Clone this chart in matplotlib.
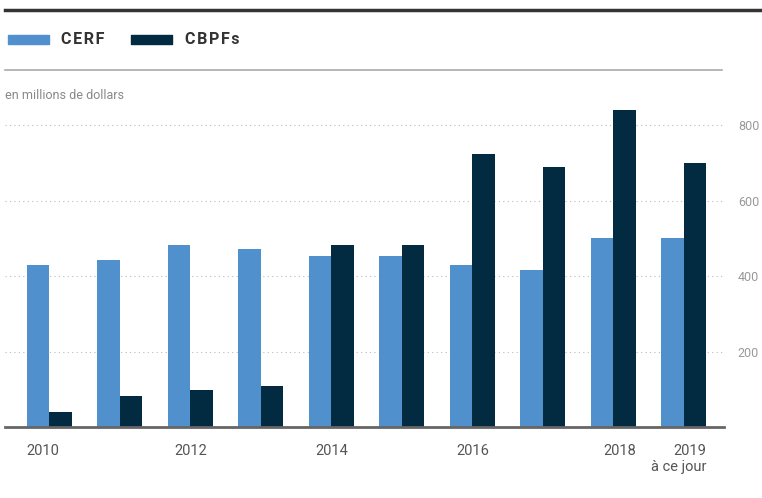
import numpy as np
import matplotlib.pyplot as plt
from matplotlib.lines import Line2D
from matplotlib.patches import Rectangle

plt.rcParams['font.family'] = ['Roboto', 'DejaVu Sans']

years = ['2010', '2011', '2012', '2013', '2014', '2015', '2016', '2017', '2018', '2019\nà ce jour']
cerf = [429, 442, 482, 471, 453, 453, 429, 416, 501, 501]
cbpf = [41, 84, 100, 108, 482, 482, 724, 689, 839, 700]
yticks = [200, 400, 600, 800]

CERF_COL = '#4f90cd'
CBPF_COL = '#022a41'

fig = plt.figure(figsize=(7.62, 4.98), dpi=100)
ax = fig.add_axes([5 / 762, 70.7 / 498, 719 / 762, 332.6 / 498])

x = np.arange(len(years))
w = 0.32
ax.bar(x - w / 2, cerf, width=w, color=CERF_COL, zorder=3)
ax.bar(x + w / 2, cbpf, width=w, color=CBPF_COL, zorder=3)

ax.set_xlim(-0.63, 9.57)
ax.set_ylim(0, 880)

# y axis on the right, dotted grid
ax.yaxis.tick_right()
ax.set_yticks(yticks)
ax.tick_params(axis='y', length=0, pad=10, labelsize=9, labelcolor='#999999')
ax.grid(axis='y', linestyle=(0, (1, 3)), color='#bbbbbb', linewidth=0.8, zorder=0)

# x labels: only every other year, ends aligned to bar edges
shown = [0, 2, 4, 6, 8, 9]
pos = []
for i in shown:
    if i == 0:
        pos.append(i - w)
    elif i >= 8:
        pos.append(i + w)
    else:
        pos.append(i)
ax.set_xticks(pos)
ax.set_xticklabels([years[i] for i in shown])
ax.tick_params(axis='x', length=0, pad=12, labelsize=10.5, labelcolor='#555555')
labels = ax.get_xticklabels()
labels[0].set_ha('left')
labels[-2].set_ha('right')
labels[-1].set_ha('right')
labels[-1].set_linespacing(1.15)

for s in ['top', 'right', 'left']:
    ax.spines[s].set_visible(False)
ax.spines['bottom'].set_color('#666666')
ax.spines['bottom'].set_linewidth(2)
ax.spines['bottom'].set_zorder(4)

# header: rules, legend, unit note
fig.add_artist(Line2D([5 / 762, 1], [1 - 10 / 498, 1 - 10 / 498], color='#333333', linewidth=2.5))
fig.add_artist(Line2D([5 / 762, 722 / 762], [1 - 70 / 498, 1 - 70 / 498], color='#aaaaaa', linewidth=1.2))

hs = '\u200a'
fig.add_artist(Rectangle((8 / 762, 1 - 44 / 498), 41 / 762, 9 / 498, color=CERF_COL, transform=fig.transFigure))
fig.text(61 / 762, 1 - 40 / 498, hs.join('CERF'), fontsize=11.5, fontweight='bold',
         color='#333333', va='center', family=['Roboto', 'DejaVu Sans'])
fig.add_artist(Rectangle((131 / 762, 1 - 44 / 498), 41 / 762, 9 / 498, color=CBPF_COL, transform=fig.transFigure))
fig.text(185 / 762, 1 - 40 / 498, hs.join('CBPFs'), fontsize=11.5, fontweight='bold',
         color='#333333', va='center', family=['Roboto', 'DejaVu Sans'])

fig.text(5 / 762, 1 - 95 / 498, 'en millions de dollars', fontsize=9, color='#888888', va='center')

fig.savefig('out.png', dpi=100)
